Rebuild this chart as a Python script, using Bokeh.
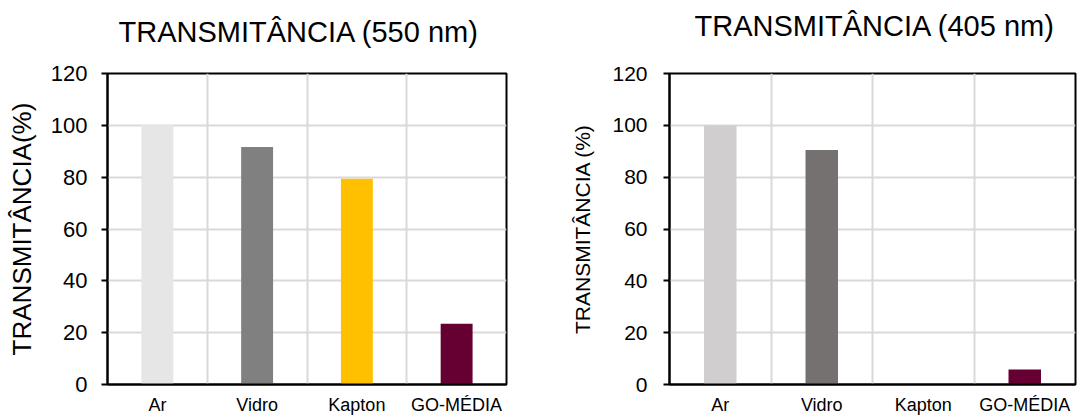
import numpy as np
from bokeh.plotting import figure
from bokeh.layouts import row
from bokeh.models import Range1d, FixedTicker, Title
from bokeh.embed import file_html
from bokeh.resources import INLINE

categories = ["Ar", "Vidro", "Kapton", "GO-MÉDIA"]
values_550 = [100.0, 91.6, 79.4, 23.4]
values_405 = [100.0, 90.5, 0.0, 5.75]
colors_550 = ["#e6e6e6", "#808080", "#ffc000", "#660033"]
colors_405 = ["#d0cece", "#767171", "#ffc000", "#660033"]
y_ticks = [0, 20, 40, 60, 80, 100, 120]

FONT = "Liberation Sans"


def make_chart(title, ylabel, values, colors, width, bl, br, spacer, title_standoff,
               title_offset, tick_size, label_size, tick_standoff, label_standoff):
    n = len(categories)
    xs = np.arange(n) + 0.5
    p = figure(width=width, height=417, output_backend="svg", toolbar_location=None,
               x_range=Range1d(0, n), y_range=Range1d(0, 120), title=None,
               min_border_left=bl, min_border_right=br,
               min_border_top=73, min_border_bottom=31)
    p.background_fill_color = "white"
    p.border_fill_color = "white"
    p.outline_line_color = "black"
    p.outline_line_width = 2
    p.outline_line_alpha = 1.0

    p.vbar(x=xs, top=values, width=0.32, bottom=0, fill_color=colors, line_color=None)

    # spacer between frame and title, then the title itself
    p.add_layout(Title(text=" ", text_font_size="1px", standoff=spacer), "above")
    p.add_layout(Title(text=title, text_font=FONT, text_font_size="29px",
                       text_font_style="normal", text_color="black",
                       align="left", offset=title_offset, standoff=title_standoff),
                 "above")

    # grids
    p.ygrid.ticker = FixedTicker(ticks=y_ticks)
    p.ygrid.grid_line_color = "#d9d9d9"
    p.ygrid.grid_line_width = 2
    p.xgrid.ticker = FixedTicker(ticks=list(range(1, n)))
    p.xgrid.grid_line_color = "#d9d9d9"
    p.xgrid.grid_line_width = 2

    # y axis
    ya = p.yaxis[0]
    ya.ticker = FixedTicker(ticks=y_ticks)
    ya.axis_line_color = "black"
    ya.axis_line_width = 2
    ya.major_tick_line_color = "black"
    ya.major_tick_line_width = 2
    ya.major_tick_in = 0
    ya.major_tick_out = 6
    ya.minor_tick_line_color = None
    ya.minor_tick_out = 0
    ya.minor_tick_in = 0
    ya.major_label_text_font = FONT
    ya.major_label_text_font_size = tick_size
    ya.major_label_text_color = "black"
    ya.major_label_standoff = tick_standoff
    ya.axis_label = ylabel
    ya.axis_label_text_font = FONT
    ya.axis_label_text_font_size = label_size
    ya.axis_label_text_font_style = "normal"
    ya.axis_label_text_color = "black"
    ya.axis_label_standoff = label_standoff

    # x axis
    xa = p.xaxis[0]
    xa.ticker = FixedTicker(ticks=list(xs))
    xa.major_label_overrides = {float(x): c for x, c in zip(xs, categories)}
    xa.axis_line_color = "black"
    xa.axis_line_width = 2
    xa.major_tick_line_color = None
    xa.major_tick_out = 0
    xa.major_tick_in = 0
    xa.minor_tick_line_color = None
    xa.minor_tick_out = 0
    xa.minor_tick_in = 0
    xa.major_label_text_font = FONT
    xa.major_label_text_font_size = "18px"
    xa.major_label_text_color = "black"
    xa.major_label_standoff = 10
    return p


p1 = make_chart("TRANSMITÂNCIA (550 nm)", "TRANSMITÂNCIA(%)", values_550, colors_550,
                540, 107, 34, 9, 27, 11, "22px", "26px", 14, 11)
p2 = make_chart("TRANSMITÂNCIA (405 nm)", "TRANSMITÂNCIA (%)", values_405, colors_405,
                537, 129, 2, 22, 13, 25, "21px", "21px", 16, 15)

layout = row(p1, p2)
open("out.html", "w").write(file_html(layout, INLINE))
